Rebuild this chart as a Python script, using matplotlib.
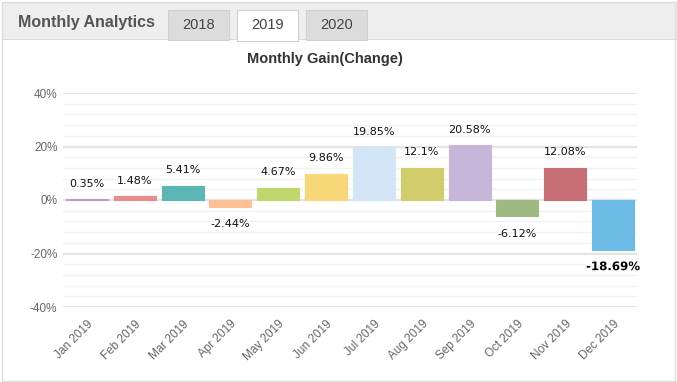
import matplotlib.pyplot as plt
import matplotlib.patheffects as pe
from matplotlib.patches import Rectangle

# data
months = ['Jan 2019', 'Feb 2019', 'Mar 2019', 'Apr 2019', 'May 2019', 'Jun 2019',
          'Jul 2019', 'Aug 2019', 'Sep 2019', 'Oct 2019', 'Nov 2019', 'Dec 2019']
gains = [0.35, 1.48, 5.41, -2.44, 4.67, 9.86, 19.85, 12.1, 20.58, -6.12, 12.08, -18.69]
labels = ['0.35%', '1.48%', '5.41%', '-2.44%', '4.67%', '9.86%',
          '19.85%', '12.1%', '20.58%', '-6.12%', '12.08%', '-18.69%']
colors = ['#c39cc4', '#e88c8c', '#5cb6b5', '#ffc096', '#bfd86e', '#f7d777',
          '#d2e6f8', '#d2cd6c', '#c7b6d9', '#9fb983', '#c86e75', '#6bbbe6']
tabs = ['2018', '2019', '2020']

W, H = 677, 382
fig = plt.figure(figsize=(W / 100, H / 100), dpi=100)
fig.patch.set_facecolor('white')


def px(x, y, w, h):
    """pixel box (top-left origin) -> figure fraction"""
    return (x / W, 1 - (y + h) / H, w / W, h / H)


# ---- header band with tabs ----
x0, y0, w0, h0 = px(2, 2, 675, 38)
fig.patches.append(Rectangle((x0, y0), w0, h0, transform=fig.transFigure,
                             facecolor='#eeeeee', edgecolor='none', zorder=0))
fig.patches.append(Rectangle((2 / W, 1 - 40 / H), 675 / W, 1 / H, transform=fig.transFigure,
                             facecolor='#dadada', edgecolor='none', zorder=1))
fig.text(18 / W, 1 - 23 / H, 'Monthly Analytics', fontsize=11.5, fontweight='bold',
         family='Liberation Sans', color='#555555', va='center', ha='left')

tab_x = [168, 237, 306]
for tx, t in zip(tab_x, tabs):
    active = t == '2019'
    bx, by, bw, bh = px(tx, 10, 61, 31 if active else 30)
    fig.patches.append(Rectangle((bx, by), bw, bh, transform=fig.transFigure,
                                 facecolor='white' if active else '#dcdcdc',
                                 edgecolor='#d0d0d0', linewidth=0.8, zorder=2))
    fig.text((tx + 30.5) / W, 1 - 25 / H, t, fontsize=10.5, family='Liberation Sans',
             color='#444444', ha='center', va='center', zorder=3)

# outer frame
fig.patches.append(Rectangle((2 / W, 1 / H), 673 / W, 379 / H, transform=fig.transFigure,
                             facecolor='none', edgecolor='#dddddd', linewidth=1, zorder=4))

fig.text(325 / W, 1 - 59 / H, 'Monthly Gain(Change)', fontsize=10.5, fontweight='bold',
         family='Liberation Sans', color='#333333', ha='center', va='center')

# ---- chart ----
ax = fig.add_axes([63 / W, 1 - 307 / H, 574 / W, 214 / H])
ax.set_facecolor('white')
xs = list(range(len(months)))
ax.bar(xs, gains, width=0.88, color=colors, edgecolor=colors, linewidth=0.8, zorder=3)
ax.set_xlim(-0.5, len(months) - 0.5)
ax.set_ylim(-40, 40)

for v in range(-40, 41, 4):
    if v % 20 == 0:
        ax.axhline(v, color='#e4e4e4', linewidth=1.6, zorder=1)
    else:
        ax.axhline(v, color='#f2f2f2', linewidth=1.0, zorder=1)

for s in ax.spines.values():
    s.set_visible(False)
ax.tick_params(length=0)
ax.set_yticks([-40, -20, 0, 20, 40])
ax.set_yticklabels(['-40%', '-20%', '0%', '20%', '40%'], fontsize=8.5,
                   family='Liberation Sans', color='#666666')
ax.tick_params(axis='y', pad=4)
ax.set_xticks(xs)
ax.set_xticklabels(months, rotation=45, ha='right', rotation_mode='anchor',
                   fontsize=8.5, family='Liberation Sans', color='#666666')
ax.tick_params(axis='x', pad=8)

for x, v, lab in zip(xs, gains, labels):
    if lab == '-18.69%':
        t = ax.annotate(lab, (x, v), xytext=(0, -12), textcoords='offset points',
                        ha='center', va='center', fontsize=8.5, fontweight='bold',
                        family='DejaVu Sans', color='black', zorder=5)
        t.set_path_effects([pe.withStroke(linewidth=2.2, foreground='white')])
    elif v >= 0:
        ax.annotate(lab, (x, v), xytext=(0, 11), textcoords='offset points',
                    ha='center', va='center', fontsize=8, family='DejaVu Sans',
                    color='#111111', zorder=5)
    else:
        ax.annotate(lab, (x, v), xytext=(0, -12.5), textcoords='offset points',
                    ha='center', va='center', fontsize=8, family='DejaVu Sans',
                    color='#111111', zorder=5)

fig.savefig('out.png', dpi=100)
